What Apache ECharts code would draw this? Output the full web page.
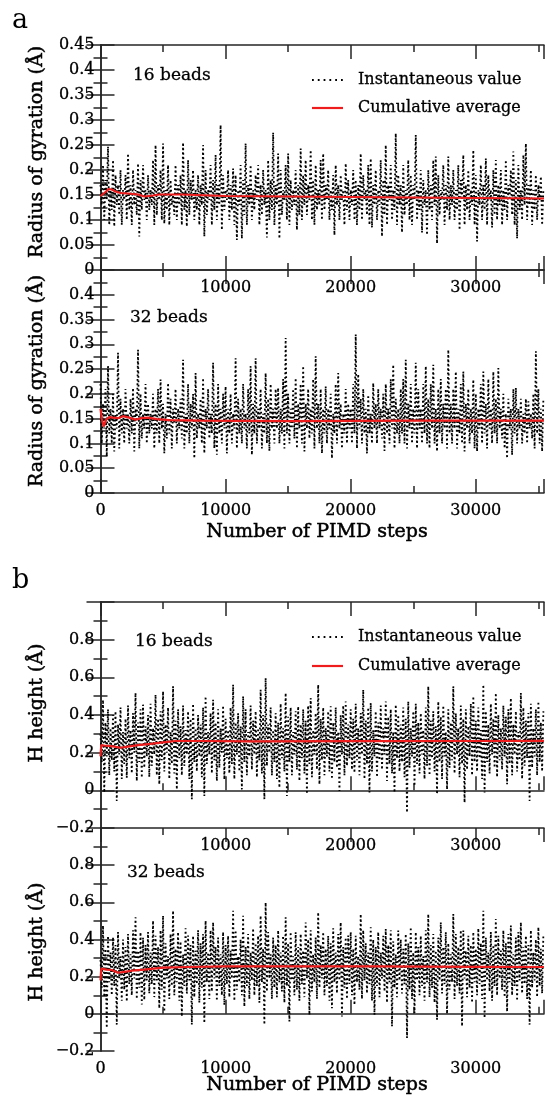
<!DOCTYPE html>
<html>
<head>
<meta charset="utf-8">
<script src="https://cdn.jsdelivr.net/npm/echarts@6/dist/echarts.min.js"></script>
<style>
html,body{margin:0;padding:0;background:#fff;}
#chart{width:547px;height:1097px;}
</style>
</head>
<body>
<div id="chart"></div>
<script>
// ---------- data ----------
const STEP = 100;              // sampling interval of the instantaneous values (PIMD steps)
const X_MAX = 35450;
const xTicks = [0, 10000, 20000, 30000];

// Panel a, 16 beads: radius of gyration (Å)
const a1Inst = [
0.17,0.13,0.21,0.10,0.18,0.14,0.247,0.09,0.16,0.12,0.22,0.087,0.19,0.13,0.17,0.11,0.20,0.09,0.16,0.14,
0.19,0.10,0.233,0.12,0.17,0.09,0.20,0.13,0.16,0.11,0.213,0.067,0.18,0.12,0.21,0.14,0.16,0.10,0.19,0.12,
0.16,0.13,0.22,0.09,0.25,0.11,0.17,0.14,0.20,0.10,0.253,0.093,0.16,0.12,0.21,0.09,0.18,0.13,0.15,0.11,
0.21,0.10,0.17,0.13,0.19,0.09,0.255,0.12,0.16,0.087,0.22,0.11,0.18,0.14,0.20,0.10,0.16,0.12,0.19,0.09,
0.17,0.13,0.25,0.067,0.20,0.11,0.16,0.14,0.21,0.09,0.18,0.12,0.23,0.10,0.17,0.13,0.29,0.08,0.19,0.12,
0.16,0.14,0.20,0.10,0.17,0.12,0.203,0.09,0.19,0.06,0.16,0.13,0.21,0.063,0.18,0.11,0.253,0.09,0.17,0.13,
0.21,0.10,0.16,0.12,0.19,0.14,0.21,0.09,0.17,0.11,0.20,0.13,0.16,0.065,0.22,0.10,0.18,0.12,0.275,0.09,
0.17,0.13,0.233,0.063,0.20,0.11,0.16,0.14,0.21,0.10,0.233,0.09,0.18,0.12,0.16,0.13,0.20,0.08,0.17,0.11,
0.243,0.10,0.19,0.13,0.22,0.11,0.17,0.14,0.24,0.10,0.18,0.09,0.21,0.12,0.16,0.13,0.22,0.10,0.233,0.12,
0.17,0.14,0.20,0.10,0.16,0.12,0.19,0.07,0.21,0.13,0.17,0.10,0.19,0.14,0.16,0.09,0.213,0.12,0.18,0.10,
0.16,0.13,0.20,0.10,0.18,0.09,0.17,0.12,0.233,0.10,0.19,0.14,0.16,0.11,0.21,0.09,0.223,0.085,0.17,0.13,
0.20,0.10,0.16,0.13,0.22,0.067,0.18,0.11,0.25,0.09,0.17,0.14,0.21,0.10,0.16,0.12,0.273,0.09,0.19,0.13,
0.17,0.075,0.21,0.11,0.16,0.13,0.22,0.10,0.19,0.09,0.17,0.14,0.27,0.10,0.16,0.12,0.20,0.075,0.18,0.13,
0.16,0.07,0.20,0.12,0.17,0.10,0.22,0.13,0.227,0.053,0.19,0.11,0.16,0.14,0.21,0.09,0.17,0.12,0.227,0.10,
0.17,0.13,0.20,0.10,0.16,0.12,0.21,0.08,0.18,0.14,0.23,0.09,0.17,0.12,0.20,0.10,0.16,0.13,0.24,0.09,
0.19,0.057,0.16,0.13,0.21,0.10,0.17,0.12,0.223,0.09,0.19,0.14,0.16,0.085,0.20,0.11,0.22,0.10,0.17,0.13,
0.20,0.09,0.16,0.12,0.22,0.10,0.17,0.14,0.20,0.11,0.237,0.09,0.18,0.063,0.21,0.12,0.16,0.10,0.23,0.13,
0.253,0.10,0.17,0.13,0.20,0.09,0.16,0.12,0.19,0.10,0.17,0.14,0.187,0.09,0.16];
const a1AvgSteps = [0,150,400,650,900,1200,1600,2200,3000,3500,4200,4700,6500,10000,15000,20000,25000,30000,35450];
const a1Avg      = [0.148,0.152,0.156,0.162,0.161,0.157,0.154,0.153,0.151,0.147,0.149,0.151,0.151,0.148,0.147,0.146,0.145,0.144,0.143];

// Panel a, 32 beads
const a2Inst = [
0.22,0.10,0.18,0.13,0.21,0.074,0.256,0.12,0.17,0.10,0.20,0.084,0.16,0.13,0.283,0.09,0.19,0.12,0.17,0.10,
0.21,0.13,0.16,0.10,0.19,0.12,0.212,0.084,0.17,0.14,0.289,0.09,0.20,0.11,0.16,0.13,0.22,0.10,0.18,0.12,
0.16,0.13,0.20,0.09,0.17,0.12,0.21,0.10,0.229,0.13,0.18,0.08,0.16,0.11,0.222,0.12,0.19,0.09,0.17,0.14,
0.21,0.10,0.17,0.13,0.19,0.11,0.269,0.09,0.16,0.12,0.22,0.10,0.18,0.13,0.20,0.07,0.242,0.11,0.16,0.13,
0.19,0.10,0.232,0.08,0.17,0.13,0.21,0.11,0.16,0.12,0.263,0.09,0.18,0.077,0.22,0.12,0.17,0.10,0.20,0.13,
0.215,0.08,0.17,0.12,0.20,0.10,0.16,0.13,0.272,0.09,0.19,0.12,0.17,0.10,0.22,0.13,0.16,0.09,0.21,0.12,
0.256,0.077,0.18,0.12,0.272,0.10,0.17,0.13,0.21,0.09,0.16,0.12,0.242,0.10,0.19,0.085,0.22,0.13,0.17,0.10,
0.21,0.13,0.212,0.10,0.17,0.12,0.23,0.09,0.313,0.12,0.20,0.10,0.17,0.13,0.21,0.11,0.232,0.09,0.18,0.13,
0.22,0.10,0.256,0.084,0.18,0.13,0.21,0.11,0.17,0.12,0.23,0.09,0.276,0.13,0.18,0.10,0.21,0.08,0.17,0.12,
0.215,0.10,0.17,0.13,0.20,0.07,0.16,0.12,0.22,0.10,0.242,0.13,0.18,0.09,0.16,0.12,0.21,0.10,0.18,0.13,
0.17,0.10,0.22,0.12,0.32,0.09,0.24,0.13,0.19,0.10,0.21,0.12,0.17,0.08,0.198,0.12,0.16,0.10,0.222,0.13,
0.18,0.10,0.21,0.13,0.17,0.11,0.20,0.085,0.22,0.12,0.17,0.10,0.23,0.13,0.259,0.09,0.19,0.12,0.17,0.10,
0.21,0.12,0.23,0.10,0.269,0.09,0.18,0.13,0.22,0.10,0.17,0.12,0.263,0.09,0.21,0.13,0.17,0.10,0.22,0.12,
0.256,0.10,0.19,0.09,0.22,0.13,0.259,0.10,0.17,0.084,0.21,0.12,0.23,0.10,0.18,0.13,0.21,0.09,0.289,0.12,
0.18,0.10,0.21,0.13,0.245,0.09,0.17,0.12,0.22,0.10,0.245,0.084,0.18,0.13,0.21,0.10,0.17,0.12,0.229,0.09,
0.20,0.084,0.17,0.13,0.22,0.10,0.245,0.12,0.18,0.09,0.23,0.13,0.17,0.10,0.245,0.12,0.19,0.10,0.252,0.13,
0.17,0.11,0.20,0.09,0.16,0.07,0.19,0.13,0.17,0.077,0.21,0.12,0.212,0.10,0.17,0.13,0.19,0.10,0.16,0.12,
0.19,0.10,0.185,0.13,0.16,0.11,0.20,0.09,0.286,0.12,0.21,0.10,0.17,0.084,0.19];
const a2AvgSteps = [0,100,250,450,700,1000,1400,1800,2300,2800,3300,3800,4500,5500,8000,15000,25000,35450];
const a2Avg      = [0.170,0.150,0.134,0.148,0.153,0.152,0.151,0.155,0.152,0.148,0.151,0.152,0.149,0.147,0.146,0.145,0.146,0.146];

// Panel b, 16 beads: H height (Å)
const b1Inst = [
0.30,0.15,0.48,-0.012,0.36,0.18,0.43,0.08,0.33,0.16,0.40,0.10,0.42,-0.056,0.35,0.19,0.44,0.06,0.31,0.14,
0.38,0.067,0.45,0.17,0.32,0.09,0.41,0.20,0.517,0.05,0.36,0.15,0.43,0.067,0.455,0.12,0.34,0.18,0.40,0.07,
0.46,0.13,0.33,0.19,0.508,0.08,0.38,0.032,0.42,0.16,0.525,0.10,0.35,0.20,0.44,0.06,0.31,0.14,0.552,0.09,
0.37,0.005,0.43,0.17,0.34,0.08,0.45,0.13,0.32,0.19,0.42,0.06,0.38,-0.047,0.46,0.15,0.33,0.10,0.40,0.18,
0.35,0.07,0.44,-0.03,0.499,0.14,0.31,0.19,0.41,0.09,0.481,0.16,0.36,0.05,0.43,0.12,0.33,0.20,0.45,0.058,
0.38,0.17,0.32,0.09,0.44,0.14,0.561,0.06,0.36,0.19,0.41,0.10,0.34,0.005,0.499,0.15,0.43,0.08,0.31,0.18,
0.45,0.11,0.37,0.19,0.42,0.07,0.33,0.16,0.534,0.09,0.40,-0.047,0.596,0.13,0.35,0.20,0.44,0.08,0.32,0.15,
0.41,0.06,0.36,0.014,0.46,0.17,0.33,0.10,0.517,-0.03,0.39,0.15,0.44,0.08,0.31,0.19,0.42,0.11,0.446,0.05,
0.35,0.17,0.43,0.09,0.37,-0.02,0.45,0.14,0.49,0.07,0.32,0.19,0.41,0.11,0.561,0.032,0.38,0.16,0.44,0.08,
0.33,0.18,0.42,0.10,0.446,0.06,0.36,0.15,0.44,0.12,0.31,-0.003,0.40,0.19,0.45,0.08,0.472,0.13,0.35,0.17,
0.43,0.11,0.38,0.093,0.46,0.16,0.33,0.08,0.41,0.19,0.534,0.06,0.37,0.14,0.44,-0.012,0.464,0.10,0.32,0.18,
0.42,0.07,0.36,0.16,0.45,0.11,0.33,0.19,0.472,0.05,0.39,0.14,0.43,0.09,0.31,-0.012,0.455,0.17,0.40,0.10,
0.35,0.15,0.44,0.07,0.38,-0.118,0.472,0.12,0.33,0.18,0.42,0.023,0.46,0.14,0.36,0.09,0.41,0.19,0.32,0.06,
0.44,0.13,0.552,0.08,0.37,0.17,0.42,0.10,0.34,-0.02,0.472,0.15,0.39,0.06,0.45,0.18,0.31,0.005,0.43,0.12,
0.36,0.16,0.552,0.09,0.41,0.19,0.33,0.07,0.45,0.14,0.38,-0.065,0.43,0.11,0.34,0.18,0.46,0.08,0.499,0.15,
0.37,0.10,0.44,0.17,0.32,0.06,0.561,-0.012,0.42,0.15,0.35,0.09,0.46,0.19,0.38,0.12,0.517,0.07,0.40,0.16,
0.33,0.11,0.45,0.18,0.39,0.032,0.43,0.14,0.49,0.08,0.35,0.19,0.42,0.10,0.31,0.16,0.517,0.06,0.44,0.13,
0.37,0.17,0.41,-0.056,0.46,0.12,0.33,0.18,0.43,0.08,0.472,0.15,0.36,0.10,0.42];
const b1AvgSteps = [0,60,150,300,600,1000,1600,2200,3000,4000,5000,6000,8000,12000,20000,30000,35450];
const b1Avg      = [0.18,0.24,0.232,0.238,0.236,0.233,0.226,0.232,0.240,0.247,0.255,0.262,0.262,0.260,0.261,0.262,0.263];

// Panel b, 32 beads
const b2Inst = [
0.29,0.14,0.475,0.09,0.35,-0.076,0.42,0.17,0.33,0.10,0.412,0.15,0.37,-0.058,0.44,0.19,0.31,0.07,0.40,0.13,
0.36,0.066,0.43,0.16,0.32,0.10,0.45,0.19,0.519,0.08,0.34,0.14,0.439,0.05,0.41,0.075,0.37,0.18,0.44,0.11,
0.33,0.16,0.501,0.09,0.42,0.18,0.36,0.03,0.45,0.13,0.528,0.012,0.38,0.19,0.31,0.08,0.43,0.15,0.555,0.10,
0.35,0.17,0.44,0.07,0.39,-0.014,0.32,0.15,0.46,0.11,0.421,0.18,0.37,-0.058,0.42,0.09,0.34,0.16,0.45,0.06,
0.38,0.14,0.43,-0.05,0.501,0.17,0.33,0.08,0.45,0.12,0.492,0.19,0.36,0.07,0.41,0.15,0.32,0.10,0.44,0.048,
0.37,0.16,0.42,0.09,0.34,0.19,0.555,0.07,0.45,0.13,0.31,0.17,0.40,0.10,0.528,0.039,0.36,0.15,0.43,0.08,
0.33,0.18,0.46,0.10,0.38,0.15,0.42,0.06,0.528,0.17,0.35,-0.058,0.599,0.12,0.44,0.19,0.32,0.08,0.41,0.14,
0.37,0.09,0.45,0.17,0.33,0.12,0.42,0.06,0.519,0.15,0.38,-0.041,0.44,0.18,0.31,0.10,0.439,0.13,0.36,0.07,
0.43,0.16,0.34,0.09,0.492,0.19,0.40,-0.005,0.45,0.12,0.32,0.17,0.41,0.08,0.546,0.14,0.37,0.19,0.44,0.10,
0.35,0.15,0.42,0.07,0.38,0.03,0.46,0.17,0.33,0.11,0.43,0.18,0.492,-0.014,0.36,0.14,0.41,0.08,0.421,0.16,
0.44,0.10,0.35,0.048,0.42,0.17,0.31,0.13,0.537,0.08,0.45,0.18,0.38,0.11,0.33,0.16,0.466,0.07,0.40,-0.005,
0.36,0.15,0.44,0.09,0.33,0.19,0.42,0.12,0.457,0.06,0.37,0.17,0.45,-0.067,0.39,0.14,0.32,0.09,0.448,0.18,
0.40,0.11,0.35,0.16,0.43,-0.13,0.38,0.13,0.466,0.08,0.33,0.004,0.44,0.18,0.36,0.10,0.42,0.15,0.31,0.07,
0.45,0.17,0.537,0.09,0.37,0.14,0.43,0.06,0.34,-0.032,0.41,0.18,0.492,0.11,0.36,0.16,0.44,0.0,0.38,0.13,
0.32,0.17,0.537,0.08,0.43,0.15,0.36,0.11,0.45,-0.067,0.448,0.19,0.34,0.09,0.42,0.14,0.37,0.06,0.44,0.17,
0.35,0.10,0.46,0.16,0.38,0.08,0.555,-0.023,0.41,0.18,0.33,0.12,0.44,0.07,0.37,0.15,0.51,0.10,0.42,0.19,
0.34,0.13,0.45,0.09,0.38,0.012,0.43,0.17,0.475,0.10,0.32,0.15,0.41,0.07,0.44,0.18,0.492,0.11,0.36,0.16,
0.42,0.08,0.37,-0.058,0.45,0.14,0.33,0.18,0.40,0.09,0.466,0.15,0.35,0.11,0.43];
const b2AvgSteps = [0,60,200,500,900,1400,1900,2500,3500,5000,7000,10000,15000,22000,30000,35450];
const b2Avg      = [0.18,0.243,0.235,0.238,0.236,0.221,0.226,0.232,0.238,0.249,0.252,0.255,0.256,0.255,0.253,0.252];

const yTitleA = 'Radius of gyration (Å)';
const yTitleB = 'H height (Å)';
const xTitle = 'Number of PIMD steps';
const panelNotes = ['16 beads', '32 beads', '16 beads', '32 beads'];
const legendNames = ['Instantaneous value', 'Cumulative average'];

// ---------- build ----------
const FONT = 'DejaVu Serif';
const AX = '#262626';
const RED = '#ee1c1c';
const grids = [
  {top: 45,  height: 225},
  {top: 270, height: 223},
  {top: 602, height: 226},
  {top: 828, height: 223}
];
const yCfg = [
  {min: 0, max: 0.45, interval: 0.05, hideTop: false},
  {min: 0, max: 0.45, interval: 0.05, hideTop: true},
  {min: -0.2, max: 1.0, interval: 0.2, hideTop: true},
  {min: -0.2, max: 1.0, interval: 0.2, hideTop: true}
];
const inst = [a1Inst, a2Inst, b1Inst, b2Inst];
const avgX = [a1AvgSteps, a2AvgSteps, b1AvgSteps, b2AvgSteps];
const avgY = [a1Avg, a2Avg, b1Avg, b2Avg];

const lineAx = {show: true, lineStyle: {color: AX, width: 1.5}};
const labelBase = {color: '#000', fontFamily: FONT, fontSize: 16, textBorderColor: '#000', textBorderWidth: 0.3};
const xAxis = [], yAxis = [], series = [];
grids.forEach((g, gi) => {
  const showZero = gi === 1 || gi === 3;
  const xBase = {gridIndex: gi, type: 'value', min: 0, max: X_MAX, splitLine: {show: false}};
  xAxis.push(Object.assign({}, xBase, {
    position: 'bottom', interval: 10000, axisLine: lineAx,
    axisTick: {inside: true, length: 14, lineStyle: {color: AX, width: 1.5}},
    axisLabel: Object.assign({show: true, margin: 10,
      formatter: v => (xTicks.indexOf(v) < 0 || (v === 0 && !showZero)) ? '' : String(v)}, labelBase)
  }));
  xAxis.push(Object.assign({}, xBase, {
    position: 'bottom', interval: 5000, axisLine: {show: false},
    axisTick: {inside: true, length: 7, lineStyle: {color: AX, width: 1.5}},
    axisLabel: {show: false}
  }));
  xAxis.push(Object.assign({}, xBase, {
    position: 'top', interval: 10000, axisLine: lineAx,
    axisTick: {inside: true, length: 14, lineStyle: {color: AX, width: 1.5}},
    axisLabel: {show: false}
  }));
  xAxis.push(Object.assign({}, xBase, {
    position: 'top', interval: 5000, axisLine: {show: false},
    axisTick: {inside: true, length: 7, lineStyle: {color: AX, width: 1.5}},
    axisLabel: {show: false}
  }));
  const yc = yCfg[gi];
  const fmtY = v => {
    if (Math.abs(v - yc.max) < 1e-9 && yc.hideTop) return '';
    return String(+v.toFixed(2)).replace('-', '\u2212');
  };
  const yBase = {gridIndex: gi, type: 'value', min: yc.min, max: yc.max, interval: yc.interval,
    splitLine: {show: false}, minorSplitLine: {show: false}, axisLine: lineAx,
    axisTick: {inside: true, length: 14, lineStyle: {color: AX, width: 1.5}},
    minorTick: {show: true, splitNumber: 2, length: 7, lineStyle: {color: AX, width: 1.5}}};
  yAxis.push(Object.assign({}, yBase, {position: 'left',
    axisLabel: Object.assign({show: true, margin: 6, formatter: fmtY}, labelBase)}));
  yAxis.push(Object.assign({}, yBase, {position: 'right', axisLabel: {show: false}}));

  series.push({
    name: legendNames[0], type: 'line', xAxisIndex: gi * 4, yAxisIndex: gi * 2,
    data: inst[gi].map((v, i) => [i * STEP, v]),
    showSymbol: false, symbol: 'none', animation: false, silent: true, clip: true,
    lineStyle: {color: '#000', width: 1.8, type: [1.8, 2.6]}
  });
  series.push({
    name: legendNames[1], type: 'line', xAxisIndex: gi * 4, yAxisIndex: gi * 2,
    data: avgX[gi].map((x, i) => [x, avgY[gi][i]]),
    showSymbol: false, symbol: 'none', animation: false, silent: true, clip: true,
    lineStyle: {color: RED, width: 2.2}
  });
});

const txt = (x, y, text, size, extra) => ({
  type: 'text', x: x, y: y, silent: true,
  style: Object.assign({text: text, fontFamily: FONT, fontSize: size, fill: '#000',
    textAlign: 'left', textVerticalAlign: 'middle'}, extra || {})
});
const rot = (x, y, text) => ({type: 'text', x: x, y: y, rotation: Math.PI / 2, silent: true,
  style: {text: text, fontFamily: FONT, fontSize: 19, fill: '#000', stroke: '#000', lineWidth: 0.5,
    textAlign: 'center', textVerticalAlign: 'middle'}});
const legendItems = (y1, y2) => [
  {type: 'line', silent: true, shape: {x1: 312, y1: y1, x2: 343, y2: y1},
    style: {stroke: '#000', lineWidth: 1.8, lineDash: [1.8, 4]}},
  {type: 'line', silent: true, shape: {x1: 312, y1: y2, x2: 343, y2: y2},
    style: {stroke: RED, lineWidth: 2.2}},
  txt(358, y1, legendNames[0], 16, {stroke: '#000', lineWidth: 0.3}),
  txt(358, y2, legendNames[1], 16, {stroke: '#000', lineWidth: 0.3})
];

const graphic = [
  txt(12, 21, 'a', 27),
  txt(12, 581, 'b', 27),
  txt(133, 76, panelNotes[0], 17, {stroke: '#000', lineWidth: 0.3}),
  txt(130, 318, panelNotes[1], 17, {stroke: '#000', lineWidth: 0.3}),
  txt(135, 642, panelNotes[2], 17, {stroke: '#000', lineWidth: 0.3}),
  txt(127, 873, panelNotes[3], 17, {stroke: '#000', lineWidth: 0.3}),
  rot(37, 152, yTitleA),
  rot(37, 381, yTitleA),
  rot(37, 703, yTitleB),
  rot(37, 942, yTitleB),
  txt(317, 532, xTitle, 19, {textAlign: 'center', stroke: '#000', lineWidth: 0.5}),
  txt(317, 1085, xTitle, 19, {textAlign: 'center', stroke: '#000', lineWidth: 0.5})
].concat(legendItems(80, 108), legendItems(637, 666));

const chart = echarts.init(document.getElementById('chart'), null, {renderer: 'canvas'});
chart.setOption({
  animation: false,
  backgroundColor: '#fff',
  grid: grids.map(g => ({left: 100.5, width: 446, top: g.top, height: g.height, containLabel: false})),
  xAxis: xAxis,
  yAxis: yAxis,
  series: series,
  graphic: graphic
});
</script>
</body>
</html>
